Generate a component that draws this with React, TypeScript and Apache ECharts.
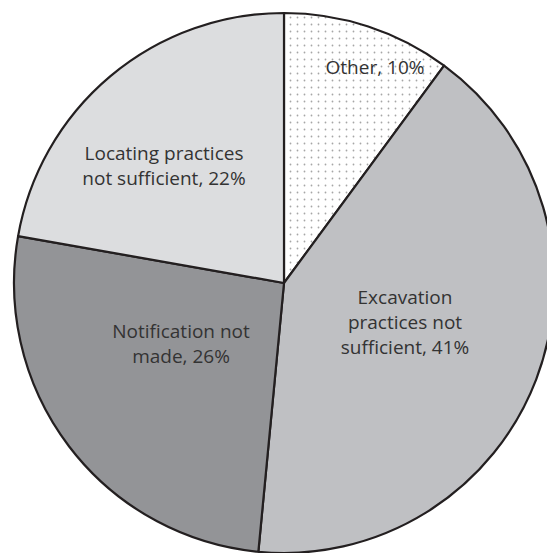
import React, { useEffect, useRef } from "react";
import * as echarts from "echarts";

const categories = [
  "Other, 10%",
  "Excavation\npractices not\nsufficient, 41%",
  "Notification not\nmade, 26%",
  "Locating practices\nnot sufficient, 22%",
];
const values = [10, 41, 26, 22];
const colors = ["#ffffff", "#bfc0c3", "#939497", "#dcdddf"];
// label centre positions (px) in the chart
const labelPos: [number, number][] = [
  [375, 67],
  [405, 322],
  [181, 343],
  [164, 165],
];

function makeDots(): any {
  const size = 7;
  const c = document.createElement("canvas");
  c.width = size;
  c.height = size;
  const ctx = c.getContext("2d")!;
  ctx.fillStyle = "#ffffff";
  ctx.fillRect(0, 0, size, size);
  ctx.fillStyle = "#a6a6a6";
  ctx.beginPath();
  ctx.arc(3.5, 3.5, 0.9, 0, Math.PI * 2);
  ctx.fill();
  return {
    image: c.toDataURL(),
    repeat: "repeat",
    imageWidth: size,
    imageHeight: size,
  };
}

export default function App() {
  const ref = useRef<HTMLDivElement>(null);
  useEffect(() => {
    document.body.style.margin = "0";
    const chart = echarts.init(ref.current!, null, { renderer: "svg" });
    const dots = makeDots();
    chart.setOption({
      animation: false,
      backgroundColor: "#ffffff",
      series: [
        {
          type: "pie",
          center: [284, 283],
          radius: 270,
          startAngle: 90,
          clockwise: true,
          silent: true,
          itemStyle: { borderColor: "#231f20", borderWidth: 2.2 },
          label: {
            show: true,
            position: "inside",
            formatter: (p: any) => p.name,
            fontFamily: "Open Sans",
            fontSize: 19,
            fontWeight: "normal",
            lineHeight: 25,
            color: "#333333",
            align: "center",
          },
          labelLine: { show: false },
          labelLayout: (p: any) => ({
            x: labelPos[p.dataIndex][0],
            y: labelPos[p.dataIndex][1],
            align: "center",
            verticalAlign: "middle",
          }),
          data: categories.map((name, i) => ({
            name,
            value: values[i],
            itemStyle: { color: i === 0 ? dots : colors[i] },
          })),
        },
      ],
    });
    return () => chart.dispose();
  }, []);
  return <div ref={ref} style={{ width: 547, height: 553 }} />;
}
